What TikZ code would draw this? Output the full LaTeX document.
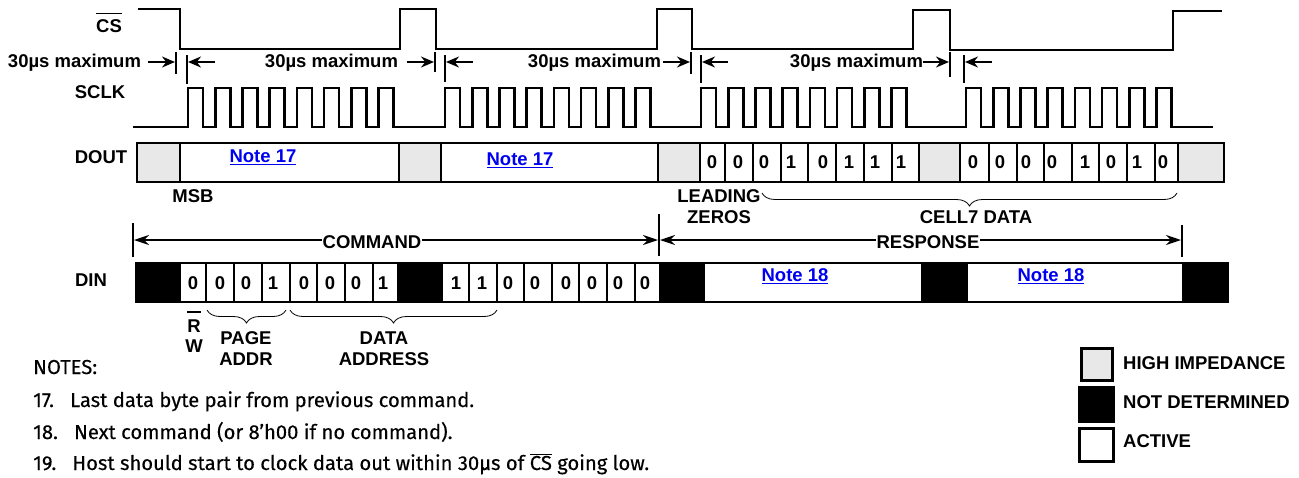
\documentclass[tikz,border=0pt]{standalone}
\usepackage{fontspec}
\setmainfont{Liberation Sans}
\newfontfamily\notefont[FakeBold=0.25]{Fira Sans}
\usepackage{tikz}
\usetikzlibrary{positioning,arrows.meta,decorations.pathreplacing}
\usepackage{xcolor}
\definecolor{hizgray}{HTML}{E8E8E8}
\definecolor{linkblue}{HTML}{0000F0}

\begin{document}
\begin{tikzpicture}[
    x=1pt, y=-1pt,
    node distance=8pt,
    wave/.style={line width=2.6pt},
    rowbox/.style={line width=2.7pt},
    label/.style={
        inner sep=0pt,
        text height=13pt,
        text depth=0pt,
        font=\fontsize{18.5}{20}\selectfont\bfseries
    },
    link/.style={label, text=linkblue},
    bit/.style={label},
    note/.style={
        anchor=west,
        inner sep=0pt,
        text height=14pt,
        text depth=0pt,
        font=\fontsize{20.2}{22}\selectfont\notefont
    },
    line/.style={-{Stealth[length=13pt,width=11pt]}, line width=1.6pt},
    span/.style={{Stealth[length=15pt,width=10pt]}-{Stealth[length=15pt,width=10pt]}, line width=1.6pt},
    tick/.style={line width=1.4pt},
    bar/.style={line width=1.6pt},
    brace/.style={decorate, decoration={brace, mirror, amplitude=13pt}, line width=0.8pt}
]
\useasboundingbox (0,0) rectangle (1299,477);

% signal names
\node[label] (cs) at (109,26) {CS};
\draw[bar] ([yshift=6pt]cs.north west) -- ([yshift=6pt]cs.north east);
\node[label] (sclk) at (100,92) {SCLK};
\node[label] (dout) at (101,157) {DOUT};
\node[label] (din) at (91,280) {DIN};

% CS
\draw[wave] (138,9) -- (180,9) -- (180,49) -- (400,49) -- (400,9) -- (436,9) -- (436,49)
    -- (657,49) -- (657,9) -- (692,9) -- (692,49) -- (913,49) -- (913,10) -- (950,10)
    -- (950,50) -- (1173,50) -- (1173,11) -- (1222,11);

% SCLK
\draw[wave] (133,127) foreach \s in {188,445,701,966} {
    foreach \k in {0,...,7} {
        -- ({\s+27.2*\k},127) -- ++(0,-39) -- ++(15,0) -- ++(0,39)
    }
} -- (1213,127);

% timing marks
\foreach \x/\y/\z in {176/52/74,187/55/84,435/52/72,445/55/82,691/52/74,701/55/83,950/52/77,964/55/83}
    \draw[tick] (\x,\y) -- (\x,\z);
\node[label] (max1) at (74.5,61) {30µs maximum};
\node[label] (max2) at (331.5,61) {30µs maximum};
\node[label] (max3) at (594.5,61) {30µs maximum};
\node[label] (max4) at (856.5,61) {30µs maximum};
\foreach \a/\b in {148/175,215/188,407/434,473/446,663/690,728/702,923/949,992/965}
    \draw[line] (\a,62) -- (\b,62);

% DOUT
\foreach \a/\b in {137/180,399/441,658/700,919/960,1178/1224}
    \fill[hizgray] (\a,143) rectangle (\b,182);
\draw[rowbox] (137,143) rectangle (1224,182);
\foreach \x in {180,399,441,658,700,919,960,1178}
    \draw[rowbox] (\x,143) -- (\x,182);
\foreach \x in {725,753,781,808,836,864,892,989,1017,1044,1072,1099,1127,1155}
    \draw[line width=1.7pt] (\x,143) -- (\x,182);
\foreach \x/\b [count=\i] in {712/0,738/0,764/0,791/1,823/0,849/1,875/1,901/1,
    973/0,1000/0,1026/0,1052/0,1085/1,1111/0,1137/1,1163/0}
    \node[bit] (dout\i) at (\x,162) {\b};
\node[link] (note17a) at (263,156) {\underline{Note 17}};
\node[link] (note17b) at (520,159) {\underline{Note 17}};

% labels under DOUT
\node[label] (msb) at (193,196) {MSB};
\draw[brace] (762,193) -- (1177,193);
\node[label] (leading) at (719,196) {LEADING};
\node[label, below=of leading] (zeros) {ZEROS};
\node[label] (cell7) at (976,217) {CELL7 DATA};

% COMMAND and RESPONSE
\draw[tick] (133,223) -- (133,257);
\draw[tick] (659,214) -- (659,256);
\draw[tick] (1182,225) -- (1182,257);
\draw[span] (134,240) -- (658,240);
\draw[span] (660,240) -- (1181,240);
\node[label, fill=white, inner xsep=1pt] (command) at (372,242) {COMMAND};
\node[label, fill=white, inner xsep=1pt] (response) at (928,242) {RESPONSE};

% DIN
\fill (135,262) rectangle (1229,303);
\foreach \a/\b in {181/205,207/233,235/261,263/289,291/316,318/344,346/372,374/397,
    443/468,470/496,498/523,525/551,553/578,580/606,608/634,636/659,705/921,968/1182}
    \fill[white] (\a,264) rectangle (\b,301);
\foreach \x/\b [count=\i] in {193/0,220/0,246/0,273/1,304/0,330/0,356/0,383/1,
    456/1,482/1,508/0,535/0,566/0,592/0,618/0,645/0}
    \node[bit] (din\i) at (\x,283) {\b};
\node[link] (note18a) at (795,275) {\underline{Note 18}};
\node[link] (note18b) at (1051,275) {\underline{Note 18}};

% labels under DIN
\draw[brace] (207,310) -- (286,310);
\draw[brace] (290,310) -- (497,310);
\node[label] (rd) at (194,326) {R};
\node[label, below=7pt of rd] (wr) {W};
\draw[bar] (187,312) -- (201,312);
\node[label] (page) at (246,338) {PAGE};
\node[label, below=of page] (addr) {ADDR};
\node[label] (data) at (384,338) {DATA};
\node[label, below=of data] (address) {ADDRESS};

% notes
\node[note] (notes) at (33,367) {NOTES:};
\node[note] (n17) at (33,400) {17.\hspace{0.8em}Last data byte pair from previous command.};
\node[note] (n18) at (33,432) {18.\hspace{0.8em}Next command (or 8’h00 if no command).};
\node[note] (n19) at (33,463) {19.\hspace{0.8em}Host should start to clock data out within 30µs of $\overline{\mbox{CS}}$ going low.};

% legend
\draw[rowbox, line width=3pt, fill=hizgray] (1081.5,348.5) rectangle (1112.5,380.5);
\fill (1078,386) rectangle (1115,423);
\draw[rowbox, line width=3pt] (1079.5,428.5) rectangle (1113.5,461.5);
\node[label, anchor=west] (high) at (1123,363) {HIGH IMPEDANCE};
\node[label, anchor=west] (undet) at (1123,402) {NOT DETERMINED};
\node[label, anchor=west] (active) at (1123,441) {ACTIVE};

\end{tikzpicture}
\end{document}
